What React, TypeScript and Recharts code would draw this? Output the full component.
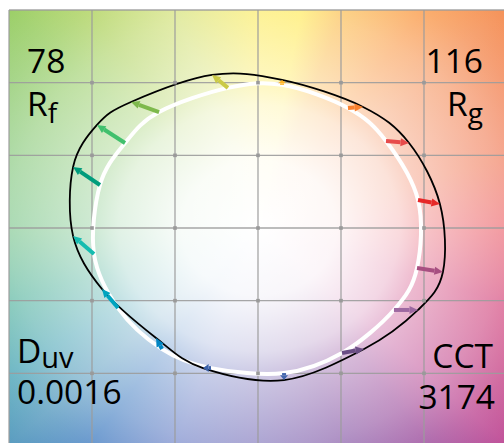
import React from "react";
import {
  ComposedChart,
  XAxis,
  YAxis,
  CartesianGrid,
  Line,
  Scatter,
  ReferenceLine,
  Customized,
} from "recharts";

// hue bins 1..16
const binColors = [
  "#e62828", "#e74b4b", "#fb812e", "#ffb529",
  "#cbca46", "#7eb94c", "#41c06d", "#009c7c",
  "#16bcb0", "#00a4bf", "#0085c3", "#3b62aa",
  "#4568ae", "#6a4e85", "#9d69a1", "#a74f81",
];

// reference (normalized) chroma per bin
const refX = [0.964, 0.771, 0.542, 0.145, -0.181, -0.596, -0.801, -0.952, -0.988, -0.843, -0.578, -0.283, 0.157, 0.506, 0.819, 0.958];
const refY = [0.193, 0.599, 0.826, 0.985, 0.964, 0.798, 0.585, 0.296, -0.179, -0.551, -0.833, -0.964, -0.998, -0.86, -0.564, -0.275];

// test source per bin
const testX = [1.096, 0.91, 0.633, 0.145, -0.277, -0.765, -0.97, -1.114, -1.114, -0.94, -0.614, -0.331, 0.157, 0.639, 0.964, 1.114];
const testY = [0.165, 0.585, 0.833, 1.019, 1.053, 0.867, 0.709, 0.42, -0.055, -0.42, -0.757, -0.964, -1.046, -0.833, -0.564, -0.303];

const gridTicks = [-1.5, -1, -0.5, 0, 0.5, 1, 1.5];

const refCurve = refX.map((x, i) => ({ x, y: refY[i] }));
const testCurve = testX.map((x, i) => ({ x, y: testY[i] }));
const inner = gridTicks.slice(1, -1);
const crossings = inner.flatMap((x) => inner.map((y) => ({ x, y })));

// closed catmull-rom through the bin points
function closedSpline(context: any) {
  let pts: number[][] = [];
  return {
    areaStart() {},
    areaEnd() {},
    lineStart() {
      pts = [];
    },
    point(x: number, y: number) {
      pts.push([x, y]);
    },
    lineEnd() {
      const n = pts.length;
      if (!n) return;
      context.moveTo(pts[0][0], pts[0][1]);
      for (let i = 0; i < n; i++) {
        const p0 = pts[(i - 1 + n) % n];
        const p1 = pts[i];
        const p2 = pts[(i + 1) % n];
        const p3 = pts[(i + 2) % n];
        context.bezierCurveTo(
          p1[0] + (p2[0] - p0[0]) / 6,
          p1[1] + (p2[1] - p0[1]) / 6,
          p2[0] - (p3[0] - p1[0]) / 6,
          p2[1] - (p3[1] - p1[1]) / 6,
          p2[0],
          p2[1]
        );
      }
      context.closePath();
    },
  };
}

interface ArrowProps {
  x1?: number;
  y1?: number;
  x2?: number;
  y2?: number;
  color: string;
}

const Arrow = ({ x1 = 0, y1 = 0, x2 = 0, y2 = 0, color }: ArrowProps) => {
  const dx = x2 - x1;
  const dy = y2 - y1;
  const len = Math.hypot(dx, dy) || 1;
  const ux = dx / len;
  const uy = dy / len;
  const head = Math.min(8.5, len * 0.7);
  const w = 4;
  const bx = x2 - ux * head;
  const by = y2 - uy * head;
  return (
    <g>
      <line x1={x1} y1={y1} x2={bx} y2={by} stroke={color} strokeWidth={4} />
      <polygon
        points={`${x2},${y2} ${bx - uy * w},${by + ux * w} ${bx + uy * w},${by - ux * w}`}
        fill={color}
      />
    </g>
  );
};

const GridMark = (props: any) => (
  <rect x={props.cx - 1.8} y={props.cy - 1.8} width={3.6} height={3.6} fill="#9a9a9a" />
);

const font = "'Open Sans', 'DejaVu Sans', sans-serif";

const Labels = () => (
  <g fontFamily={font} fill="#000" fontSize={33.5}>
    <text x={27} y={73}>78</text>
    <text x={27} y={116}>
      R<tspan fontSize={28} dy={7}>f</tspan>
    </text>
    <text x={483} y={73} textAnchor="end">116</text>
    <text x={483} y={116} textAnchor="end">
      R<tspan fontSize={28} dy={7}>g</tspan>
    </text>
    <text x={17} y={363}>
      D<tspan fontSize={29} dy={5}>uv</tspan>
    </text>
    <text x={17} y={404}>0.0016</text>
    <text x={493} y={368} textAnchor="end">CCT</text>
    <text x={495} y={409} textAnchor="end">3174</text>
  </g>
);

const hues =
  "conic-gradient(from 0deg at 250px 218px, #fcea55 0deg, #ffe84b 11deg, #fbbb49 21deg, #fa9c4c 37deg, #f59258 48deg, #f07754 74deg, #eb5b64 90deg, #d24077 107deg, #c05098 131deg, #9c4c9c 142deg, #8254a4 159deg, #796db7 180deg, #6e82c7 201deg, #4a83c4 218deg, #5a9cc0 229deg, #50a8b8 240deg, #55b49d 254deg, #78c488 270deg, #9ccf68 311deg, #b0d360 322deg, #d2e071 339deg, #fcea55 360deg)";
const whiteCore =
  "radial-gradient(ellipse 352px 308px at 250px 218px, rgba(255,255,255,1) 0%, rgba(255,255,255,0.95) 22%, rgba(255,255,255,0.78) 40%, rgba(255,255,255,0.64) 47%, rgba(255,255,255,0.38) 71%, rgba(255,255,255,0.18) 85%, rgba(255,255,255,0) 100%)";

export default function App() {
  return (
    <div
      style={{
        position: "absolute",
        left: 0,
        top: 0,
        width: 504,
        height: 443,
        overflow: "hidden",
        background: "#fff",
      }}
    >
      <div
        style={{
          position: "absolute",
          left: 9,
          top: 10,
          width: 498,
          height: 436,
          background: `${whiteCore}, ${hues}`,
        }}
      />
      <div style={{ position: "absolute", left: 0, top: 0 }}>
        <ComposedChart
          width={507}
          height={446}
          margin={{ top: 10, right: 0, bottom: 0, left: 9 }}
        >
          <XAxis
            type="number"
            dataKey="x"
            domain={[-1.5, 1.5]}
            ticks={gridTicks}
            allowDataOverflow
            hide
          />
          <YAxis
            type="number"
            dataKey="y"
            domain={[-1.5, 1.5]}
            ticks={gridTicks}
            allowDataOverflow
            hide
          />
          <CartesianGrid stroke="#9c9c9c" strokeWidth={1.3} strokeOpacity={0.9} />
          <Scatter data={crossings} shape={<GridMark />} isAnimationActive={false} />
          <Line
            data={refCurve}
            dataKey="y"
            type={closedSpline as any}
            stroke="#ffffff"
            strokeWidth={4}
            dot={false}
            activeDot={false}
            isAnimationActive={false}
          />
          <Line
            data={testCurve}
            dataKey="y"
            type={closedSpline as any}
            stroke="#000000"
            strokeWidth={1.8}
            dot={false}
            activeDot={false}
            isAnimationActive={false}
          />
          {binColors.map((color, i) => (
            <ReferenceLine
              key={`bin-${i}`}
              segment={[
                { x: refX[i], y: refY[i] },
                { x: testX[i], y: testY[i] },
              ]}
              shape={(p: any) => (
                <Arrow x1={p.x1} y1={p.y1} x2={p.x2} y2={p.y2} color={color} />
              )}
            />
          ))}
          <Customized component={Labels} />
        </ComposedChart>
      </div>
    </div>
  );
}
